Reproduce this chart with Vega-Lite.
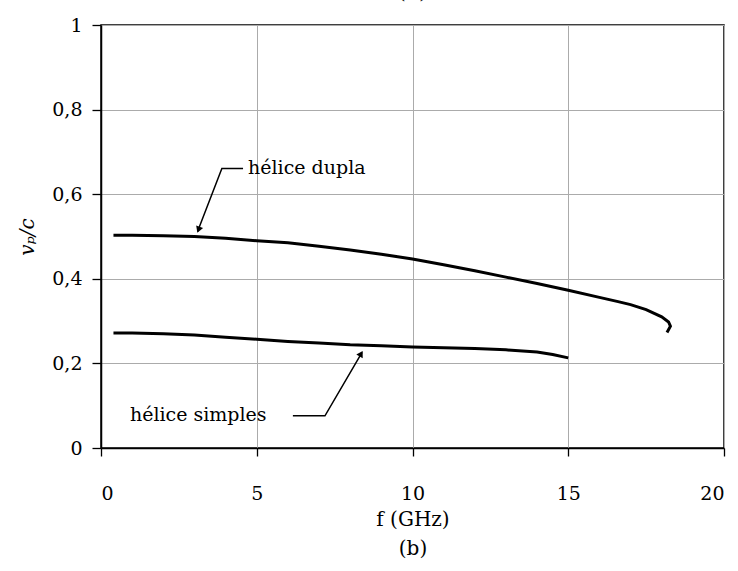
{
  "$schema": "https://vega.github.io/schema/vega-lite/v6.json",
  "width": 623,
  "height": 423,
  "autosize": {"type": "none"},
  "padding": {"left": 101, "top": 25, "right": 14, "bottom": 123},
  "background": "white",
  "config": {
    "view": {"stroke": "black", "strokeWidth": 1.5},
    "font": "DejaVu Serif"
  },
  "datasets": {
    "curves": [
      {"series": "dupla", "ord": 1, "f": 0.4, "v": 0.503},
      {"series": "dupla", "ord": 2, "f": 1, "v": 0.503},
      {"series": "dupla", "ord": 3, "f": 2, "v": 0.502},
      {"series": "dupla", "ord": 4, "f": 3, "v": 0.500},
      {"series": "dupla", "ord": 5, "f": 4, "v": 0.496},
      {"series": "dupla", "ord": 6, "f": 5, "v": 0.490},
      {"series": "dupla", "ord": 7, "f": 6, "v": 0.485},
      {"series": "dupla", "ord": 8, "f": 7, "v": 0.477},
      {"series": "dupla", "ord": 9, "f": 8, "v": 0.468},
      {"series": "dupla", "ord": 10, "f": 9, "v": 0.458},
      {"series": "dupla", "ord": 11, "f": 10, "v": 0.447},
      {"series": "dupla", "ord": 12, "f": 11, "v": 0.433},
      {"series": "dupla", "ord": 13, "f": 12, "v": 0.419},
      {"series": "dupla", "ord": 14, "f": 13, "v": 0.404},
      {"series": "dupla", "ord": 15, "f": 14, "v": 0.389},
      {"series": "dupla", "ord": 16, "f": 15, "v": 0.373},
      {"series": "dupla", "ord": 17, "f": 16, "v": 0.356},
      {"series": "dupla", "ord": 18, "f": 16.6, "v": 0.346},
      {"series": "dupla", "ord": 19, "f": 17, "v": 0.339},
      {"series": "dupla", "ord": 20, "f": 17.5, "v": 0.327},
      {"series": "dupla", "ord": 21, "f": 18, "v": 0.310},
      {"series": "dupla", "ord": 22, "f": 18.22, "v": 0.298},
      {"series": "dupla", "ord": 23, "f": 18.28, "v": 0.288},
      {"series": "dupla", "ord": 24, "f": 18.17, "v": 0.273},
      {"series": "simples", "ord": 1, "f": 0.4, "v": 0.272},
      {"series": "simples", "ord": 2, "f": 1, "v": 0.272},
      {"series": "simples", "ord": 3, "f": 2, "v": 0.270},
      {"series": "simples", "ord": 4, "f": 3, "v": 0.267},
      {"series": "simples", "ord": 5, "f": 4, "v": 0.262},
      {"series": "simples", "ord": 6, "f": 5, "v": 0.257},
      {"series": "simples", "ord": 7, "f": 6, "v": 0.252},
      {"series": "simples", "ord": 8, "f": 7, "v": 0.248},
      {"series": "simples", "ord": 9, "f": 8, "v": 0.244},
      {"series": "simples", "ord": 10, "f": 9, "v": 0.242},
      {"series": "simples", "ord": 11, "f": 10, "v": 0.239},
      {"series": "simples", "ord": 12, "f": 11, "v": 0.237},
      {"series": "simples", "ord": 13, "f": 12, "v": 0.235},
      {"series": "simples", "ord": 14, "f": 13, "v": 0.232},
      {"series": "simples", "ord": 15, "f": 14, "v": 0.227},
      {"series": "simples", "ord": 16, "f": 14.5, "v": 0.221},
      {"series": "simples", "ord": 17, "f": 15, "v": 0.213}
    ],
    "leaders": [
      {"id": "dupla", "ord": 1, "f": 4.56, "v": 0.661},
      {"id": "dupla", "ord": 2, "f": 3.88, "v": 0.661},
      {"id": "dupla", "ord": 3, "f": 3.1, "v": 0.512},
      {"id": "simples", "ord": 1, "f": 6.16, "v": 0.076},
      {"id": "simples", "ord": 2, "f": 7.19, "v": 0.076},
      {"id": "simples", "ord": 3, "f": 8.38, "v": 0.226}
    ],
    "heads": [
      {"id": "dupla", "f": 3.13, "v": 0.516},
      {"id": "simples", "f": 8.35, "v": 0.223}
    ],
    "labels": [
      {"text": "hélice dupla", "f": 4.72, "v": 0.661},
      {"text": "hélice simples", "f": 0.93, "v": 0.079}
    ],
    "panel": [
      {"text": "(a)", "f": 10.0, "v": 1.08}
    ]
  },
  "layer": [
    {
      "data": {"name": "curves"},
      "mark": {"type": "line", "color": "black", "strokeWidth": 3, "clip": false},
      "encoding": {
        "x": {
          "field": "f", "type": "quantitative",
          "scale": {"domain": [0, 20], "nice": false},
          "axis": {
            "values": [0, 5, 10, 15, 20],
            "title": ["f (GHz)", "(b)"],
            "titleFont": "DejaVu Serif", "titleFontSize": 20, "titleFontWeight": "normal",
            "titleColor": "black", "titleLineHeight": 29, "titlePadding": 6,
            "labelFont": "DejaVu Serif", "labelFontSize": 19, "labelColor": "black",
            "labelPadding": 28,
            "domainColor": "black", "domainWidth": 1.5,
            "tickColor": "black", "tickSize": 8, "tickWidth": 1.3,
            "grid": true, "gridColor": "#ababab", "gridWidth": 1
          }
        },
        "y": {
          "field": "v", "type": "quantitative",
          "scale": {"domain": [0, 1], "nice": false},
          "axis": {
            "values": [0, 0.2, 0.4, 0.6, 0.8, 1],
            "labelExpr": "replace(format(datum.value, '~g'), '.', ',')",
            "title": "vₚ/c",
            "titleFont": "DejaVu Serif", "titleFontSize": 20, "titleFontWeight": "normal",
            "titleFontStyle": "italic", "titleColor": "black", "titlePadding": 14,
            "labelFont": "DejaVu Serif", "labelFontSize": 19, "labelColor": "black",
            "labelPadding": 10,
            "domainColor": "black", "domainWidth": 1.5,
            "tickColor": "black", "tickSize": 9, "tickWidth": 1.3,
            "grid": true, "gridColor": "#ababab", "gridWidth": 1
          }
        },
        "detail": {"field": "series"},
        "order": {"field": "ord", "type": "quantitative"}
      }
    },
    {
      "data": {"name": "leaders"},
      "mark": {"type": "line", "color": "black", "strokeWidth": 1.5},
      "encoding": {
        "x": {"field": "f", "type": "quantitative"},
        "y": {"field": "v", "type": "quantitative"},
        "detail": {"field": "id"},
        "order": {"field": "ord", "type": "quantitative"}
      }
    },
    {
      "data": {"name": "heads"},
      "transform": [{"filter": "datum.id == 'dupla'"}],
      "mark": {"type": "point", "shape": "triangle-down", "filled": true, "color": "black", "size": 55, "angle": 21, "opacity": 1},
      "encoding": {
        "x": {"field": "f", "type": "quantitative"},
        "y": {"field": "v", "type": "quantitative"}
      }
    },
    {
      "data": {"name": "heads"},
      "transform": [{"filter": "datum.id == 'simples'"}],
      "mark": {"type": "point", "shape": "triangle-up", "filled": true, "color": "black", "size": 55, "angle": 30, "opacity": 1},
      "encoding": {
        "x": {"field": "f", "type": "quantitative"},
        "y": {"field": "v", "type": "quantitative"}
      }
    },
    {
      "data": {"name": "labels"},
      "mark": {"type": "text", "align": "left", "baseline": "middle", "font": "DejaVu Serif", "fontSize": 19, "color": "black"},
      "encoding": {
        "x": {"field": "f", "type": "quantitative"},
        "y": {"field": "v", "type": "quantitative"},
        "text": {"field": "text"}
      }
    },
    {
      "data": {"name": "panel"},
      "mark": {"type": "text", "align": "center", "baseline": "middle", "font": "DejaVu Serif", "fontSize": 22, "color": "black", "clip": false},
      "encoding": {
        "x": {"field": "f", "type": "quantitative"},
        "y": {"field": "v", "type": "quantitative"},
        "text": {"field": "text"}
      }
    }
  ]
}
